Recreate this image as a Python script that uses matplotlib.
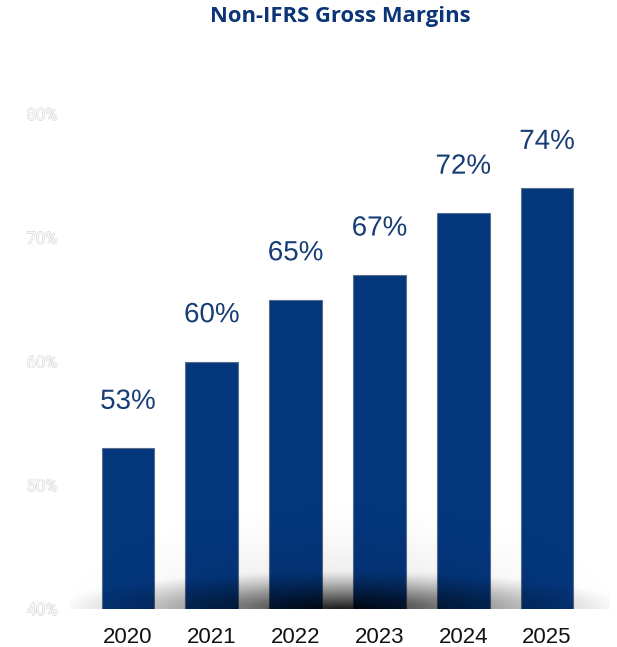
import numpy as np
import matplotlib.pyplot as plt
import matplotlib.patheffects as pe

# data
years = ['2020', '2021', '2022', '2023', '2024', '2025']
margins = [53, 60, 65, 67, 72, 74]
yticks = [40, 50, 60, 70, 80]
ytick_labels = ['40%', '50%', '60%', '70%', '80%']

bar_color = '#04367c'
text_color = '#173d74'

fig = plt.figure(figsize=(6.17, 6.47), dpi=100)
ax = fig.add_axes([0.1135, 0.0587, 0.875, 0.7651])

x = np.arange(len(years))
bars = ax.bar(x, margins, width=0.63, bottom=0, color=bar_color,
              edgecolor='#5b6f8c', linewidth=0.8, joinstyle='round', zorder=2)

xlim = (-0.692, 5.75)
ylim = (40, 80)

# soft shadow at the base of the bars
xs = np.linspace(xlim[0], xlim[1], 600)
ys = np.linspace(ylim[0], ylim[0] + 12, 300)
X, Y = np.meshgrid(xs, ys)
xc = 2.55
u = (X - xc) / 3.45
v = (Y - ylim[0]) / 3.1
r = np.sqrt(u ** 2 + v ** 2)
a1 = np.clip(1 - r, 0, 1) ** 1.2 * 0.78
u2 = (X - xc) / 3.6
v2 = (Y - ylim[0]) / 9.0
r2 = np.sqrt(u2 ** 2 + v2 ** 2)
a2 = np.clip(1 - r2, 0, 1) ** 1.5 * 0.12
alpha = np.clip(a1 + a2, 0, 1)
img = np.zeros((len(ys), len(xs), 4))
img[..., 3] = alpha
ax.imshow(img, extent=(xlim[0], xlim[1], ys[0], ys[-1]), origin='lower',
          aspect='auto', zorder=3, interpolation='bilinear')

for xi, val in zip(x, margins):
    ax.annotate(f'{val}%', (xi, val), xytext=(0, 24), textcoords='offset points',
                ha='center', va='bottom', fontsize=20, color=text_color,
                family='Liberation Sans', zorder=5,
                path_effects=[pe.withStroke(linewidth=3, foreground='white')])

ax.set_xlim(*xlim)
ax.set_ylim(*ylim)
ax.set_xticks(x)
ax.set_xticklabels(years, fontsize=16, family='Liberation Sans', color='#111111')
ax.set_yticks(yticks)
ax.set_yticklabels(ytick_labels, fontsize=12, family='Roboto', color='#f8f8f8')
for lab in ax.get_yticklabels():
    lab.set_path_effects([pe.withStroke(linewidth=0.7, foreground='#c8c8c8'), pe.Normal()])
ax.tick_params(axis='both', length=0)
ax.tick_params(axis='x', pad=13)
ax.tick_params(axis='y', pad=9)
for s in ax.spines.values():
    s.set_visible(False)

fig.text(0.552, 0.975, 'Non-IFRS Gross Margins', ha='center', va='center',
         fontsize=15.8, fontweight='bold', family='Open Sans', color='#0b3577')

fig.savefig('out.png', dpi=100)
